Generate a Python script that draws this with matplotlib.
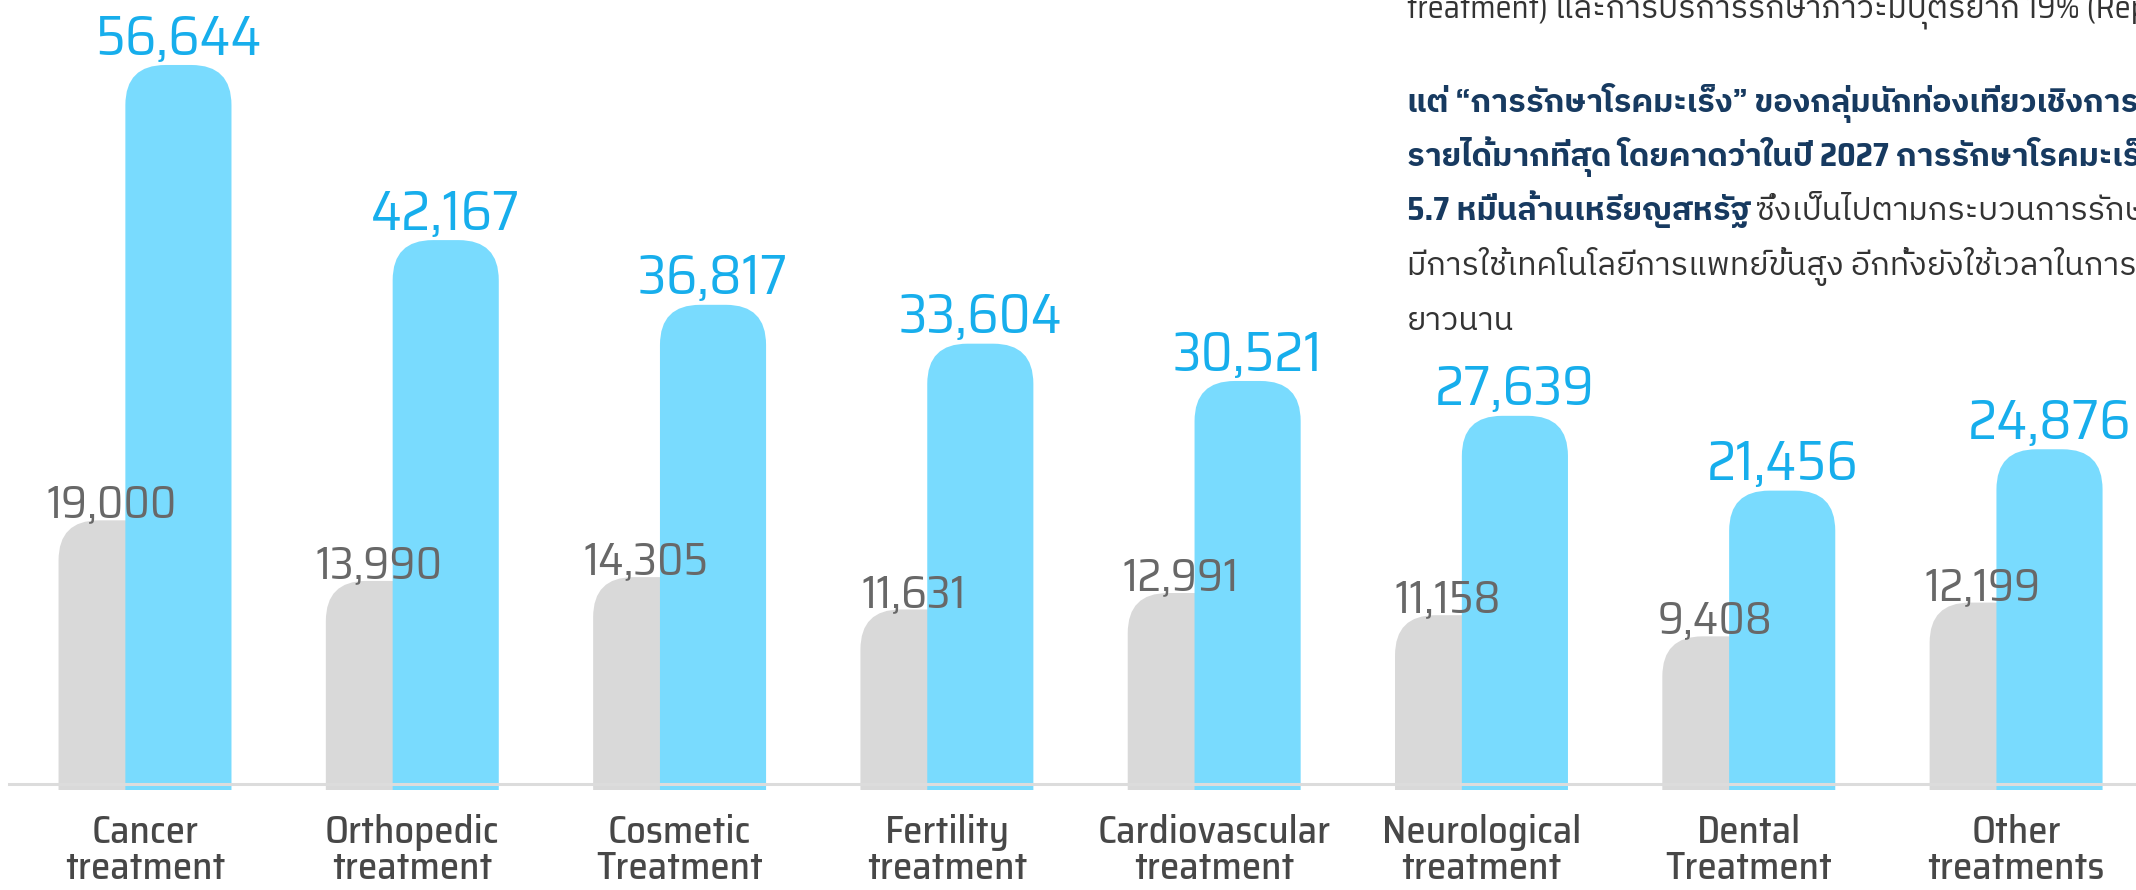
import matplotlib
matplotlib.use("Agg")
import matplotlib.pyplot as plt
from matplotlib.patches import FancyBboxPatch, BoxStyle

categories = ["Cancer\ntreatment", "Orthopedic\ntreatment", "Cosmetic\nTreatment",
              "Fertility\ntreatment", "Cardiovascular\ntreatment", "Neurological\ntreatment",
              "Dental\nTreatment", "Other\ntreatments"]
values_before = [19000, 13990, 14305, 11631, 12991, 11158, 9408, 12199]
values_after = [56644, 42167, 36817, 33604, 30521, 27639, 21456, 24876]

para_regular_1 = "treatment) และการบริการรักษาภาวะมีบุตรยาก 19% (Reproductive treatment)"
para_bold_2 = "แต่ “การรักษาโรคมะเร็ง” ของกลุ่มนักท่องเที่ยวเชิงการแพทย์จะสร้าง"
para_bold_3 = "รายได้มากที่สุด โดยคาดว่าในปี 2027 การรักษาโรคมะเร็งจะสร้างรายได้"
para_bold_4 = "5.7 หมื่นล้านเหรียญสหรัฐ"
para_regular_4 = "ซึ่งเป็นไปตามกระบวนการรักษาที่ซับซ้อน"
para_regular_5 = "มีการใช้เทคโนโลยีการแพทย์ขั้นสูง อีกทั้งยังใช้เวลาในการรักษา"
para_regular_6 = "ยาวนาน"

LATIN = "Saira SemiCondensed"
THAI = [LATIN, "IBM Plex Sans Thai", "Noto Sans Thai", "DejaVu Sans"]
BLUE = "#79dbfe"
BLUE_TXT = "#17aeec"
GRAY = "#d9d9d9"
GRAY_TXT = "#686868"
W, H = 2136, 890

fig = plt.figure(figsize=(W / 100, H / 100), dpi=100)
ax = fig.add_axes([0, 0.1124, 1, 0.8876])
ax.set_xlim(-0.5425, 7.4486)
ax.set_ylim(-3290, 62016)
ax.axis("off")

bar_w = 0.397
shift = 0.125
# ratio of y data units per pixel to x data units per pixel, keeps corners circular
aspect = (62016 + 3290) / (H * 0.8876) / (7.9911 / W)
r = 0.15
base = -3290 - 5000

for i, (g, b) in enumerate(zip(values_before, values_after)):
    for val, xc, col, z in [(g, i - shift, GRAY, 1), (b, i + shift, BLUE, 2)]:
        p = FancyBboxPatch((xc - bar_w / 2, base), bar_w, val - base,
                           boxstyle=BoxStyle.Round(pad=0, rounding_size=r),
                           mutation_aspect=aspect, fc=col, ec="none", zorder=z)
        ax.add_patch(p)
    ax.annotate(f"{b:,}", (i + shift, b), xytext=(0, 7.5), textcoords="offset points",
                ha="center", va="baseline", fontsize=40, color=BLUE_TXT, family=LATIN)
    ax.annotate(f"{g:,}", (i - shift, g), xytext=(0, 2), textcoords="offset points",
                ha="center", va="baseline", fontsize=33, color=GRAY_TXT, family=LATIN)
    ax.text(i, -0.031, categories[i], transform=ax.get_xaxis_transform(),
            ha="center", va="top", fontsize=28, color="#474747", family=LATIN,
            weight=500, linespacing=0.95)

ax.axhline(-2794, xmin=0.004, xmax=1, color="#dcdcdc", lw=2.2, zorder=3)

# paragraph at the top right, cut by the figure edge as in the original
x0 = 1407 / W
fs = 23.3
reg_col = "#333333"
bold_col = "#173a60"
fig.text(x0, 1 - 18 / H, para_regular_1, fontsize=fs, color=reg_col, family=THAI, va="baseline")
fig.text(x0, 1 - 112 / H, para_bold_2, fontsize=fs, color=bold_col, family=THAI,
         weight="bold", va="baseline")
fig.text(x0, 1 - 166 / H, para_bold_3, fontsize=fs, color=bold_col, family=THAI,
         weight="bold", va="baseline")
t4 = fig.text(x0, 1 - 220 / H, para_bold_4, fontsize=fs, color=bold_col, family=THAI,
              weight="bold", va="baseline")
fig.text(x0, 1 - 275 / H, para_regular_5, fontsize=fs, color=reg_col, family=THAI, va="baseline")
fig.text(x0, 1 - 330 / H, para_regular_6, fontsize=fs, color=reg_col, family=THAI, va="baseline")

fig.canvas.draw()
bb = t4.get_window_extent()
fig.text(bb.x1 / W + 0.002, 1 - 220 / H, para_regular_4, fontsize=fs, color=reg_col,
         family=THAI, va="baseline")

fig.savefig("out.png", dpi=100)
